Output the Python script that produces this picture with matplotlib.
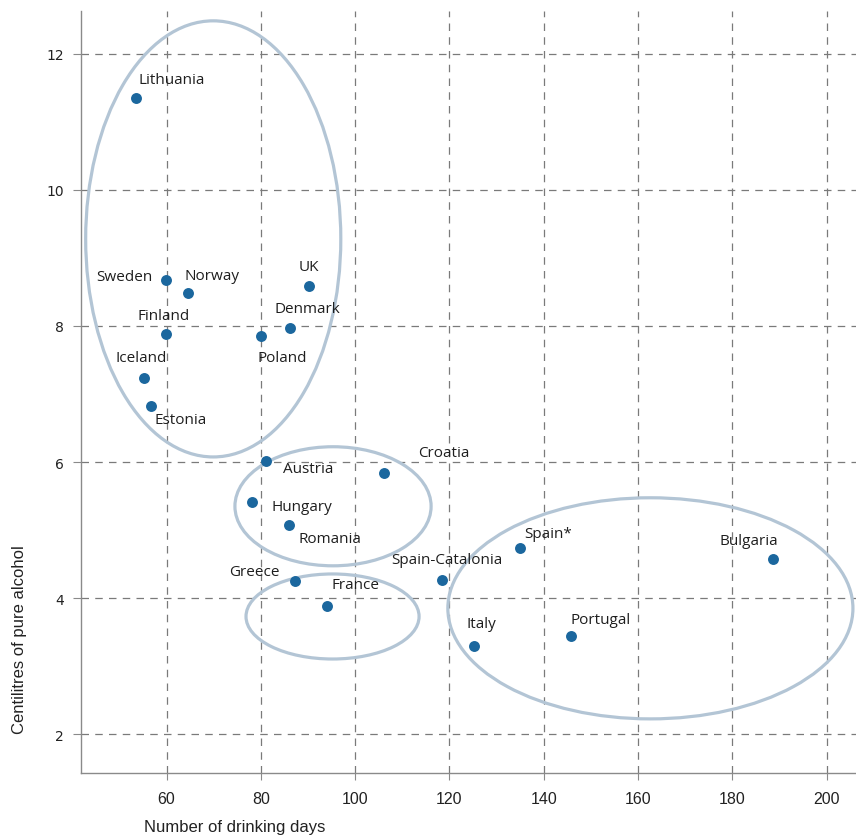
import matplotlib
matplotlib.use("Agg")
import matplotlib.pyplot as plt
from matplotlib.patches import Ellipse

# countries, drinking days (x), centilitres of pure alcohol (y)
countries = ["Lithuania", "Sweden", "Norway", "UK", "Finland", "Denmark", "Poland",
             "Iceland", "Estonia", "Austria", "Croatia", "Hungary", "Romania",
             "Greece", "France", "Spain-Catalonia", "Spain*", "Bulgaria", "Italy", "Portugal"]
days = [53.5, 59.9, 64.5, 90.2, 59.9, 86.2, 80.0,
        55.3, 56.7, 81.0, 106.1, 78.2, 85.9,
        87.2, 94.1, 118.5, 135.0, 188.5, 125.3, 145.8]
alcohol = [11.35, 8.68, 8.48, 8.59, 7.88, 7.97, 7.85,
           7.23, 6.83, 6.01, 5.84, 5.42, 5.07,
           4.25, 3.89, 4.27, 4.73, 4.57, 3.30, 3.44]

# label placement (offset in pixels, horizontal alignment)
offsets = [(3, 19), (-14, 3), (-3, 18), (0, 19), (-2, 19), (17, 20), (-3, -21),
           (-3, 21), (4, -14), (17, -7), (34, 20), (19, -5), (10, -13),
           (-15, 10), (4, 21), (4, 20), (4, 15), (-24, 19), (-8, 22), (-1, 17)]
aligns = ["left", "right", "left", "center", "center", "center", "left",
          "center", "left", "left", "left", "left", "left",
          "right", "left", "center", "left", "center", "left", "left"]

# cluster ellipses: centre x, centre y, width, height
groups_cx = [69.9, 95.3, 95.2, 162.6]
groups_cy = [9.28, 5.35, 3.73, 3.85]
groups_w = [54.1, 41.6, 36.7, 85.9]
groups_h = [6.41, 1.75, 1.25, 3.25]

xticks = [60, 80, 100, 120, 140, 160, 180, 200]
yticks = [2, 4, 6, 8, 10, 12]

narrow = ["Liberation Sans", "DejaVu Sans"]

fig = plt.figure(figsize=(8.56, 8.37), dpi=100)
ax = fig.add_axes([0.0943, 0.0753, 0.9057, 0.9104])

for cx, cy, w, h in zip(groups_cx, groups_cy, groups_w, groups_h):
    ax.add_patch(Ellipse((cx, cy), w, h, fill=False, edgecolor="#b3c5d5",
                         linewidth=2.3, zorder=2, clip_on=False))

ax.scatter(days, alcohol, s=62, color="#1b679e", zorder=3, linewidths=0)

for name, x, y, off, ha in zip(countries, days, alcohol, offsets, aligns):
    ax.annotate(name, (x, y), xytext=off, textcoords="offset pixels",
                ha=ha, va="center", fontsize=11, family="Open Sans",
                color="#1e1e1e", zorder=4)

ax.set_xlim(41.8, 206.2)
ax.set_ylim(1.43, 12.63)
ax.set_xticks(xticks)
ax.set_yticks(yticks)
ax.grid(True, color="#7a7a7a", linestyle=(0, (6, 5)), linewidth=0.9)
ax.set_axisbelow(True)

for s in ["top", "right"]:
    ax.spines[s].set_visible(False)
for s in ["left", "bottom"]:
    ax.spines[s].set_color("#8a8a8a")
    ax.spines[s].set_linewidth(1.0)

ax.tick_params(axis="x", length=5, width=0.8, color="#8a8a8a", pad=8)
ax.tick_params(axis="y", length=6, width=0.8, color="#8a8a8a", pad=6)
for t in ax.get_xticklabels():
    t.set_family(narrow)
    t.set_fontsize(11.5)
    t.set_color("#222222")
for t in ax.get_yticklabels():
    t.set_family("DejaVu Sans")
    t.set_fontsize(10)
    t.set_color("#222222")

fig.text(235 / 856, 1 - 828 / 837, "Number of drinking days", family=narrow,
         fontsize=12, ha="center", va="center", color="#222222")
fig.text(20 / 856, 1 - 640 / 837, "Centilitres of pure alcohol", family=narrow,
         fontsize=12, ha="center", va="center", rotation=90, color="#222222")

fig.savefig("out.png", dpi=100)
